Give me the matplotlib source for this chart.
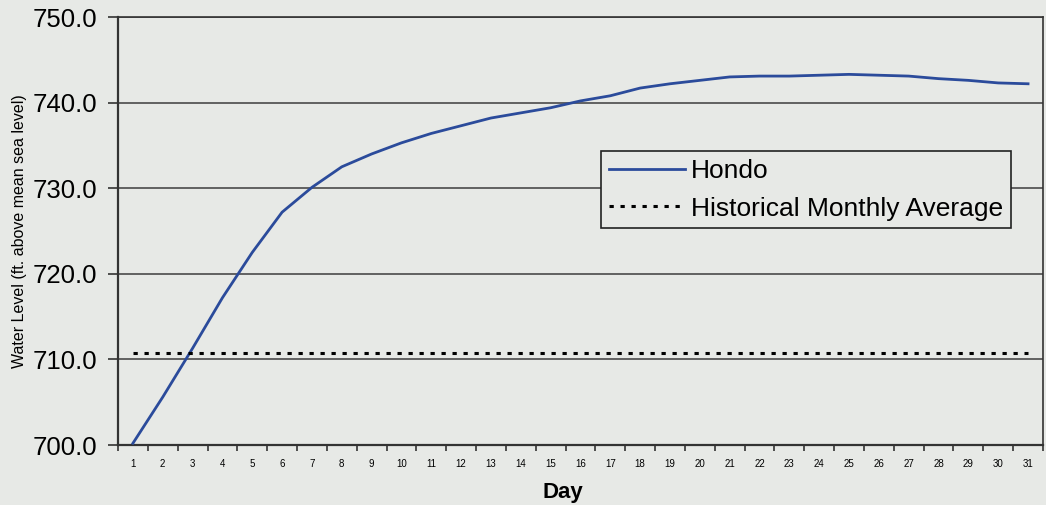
import numpy as np
import matplotlib.pyplot as plt

# -----------------------------
# Data
# -----------------------------
days = list(range(1, 32))
hondo = [700.2, 705.6, 711.3, 717.2, 722.5, 727.2, 730.1, 732.5, 734.0, 735.3,
         736.4, 737.3, 738.2, 738.8, 739.4, 740.2, 740.8, 741.7, 742.2, 742.6,
         743.0, 743.1, 743.1, 743.2, 743.3, 743.2, 743.1, 742.8, 742.6, 742.3,
         742.2]
hist_avg = [710.7] * 31

y_ticks = [700, 710, 720, 730, 740, 750]

bg = '#e7e9e6'
plt.rcParams['font.family'] = ['Liberation Sans', 'DejaVu Sans']

fig = plt.figure(figsize=(10.46, 5.05), dpi=100, facecolor=bg)
ax = fig.add_axes([0.1128, 0.1188, 0.8843, 0.8475], facecolor=bg)

ax.plot(days, hondo, color='#2b4b9b', lw=2.0, label='Hondo', zorder=3)
ax.plot(days, hist_avg, color='black', lw=2.2, linestyle=(0, (1.4, 2.2)),
        label='Historical Monthly Average', zorder=3)

ax.set_xlim(0.5, 31.5)
ax.set_ylim(700, 750)

# y axis
ax.set_yticks(y_ticks)
ax.set_yticklabels([f'{v:.1f}' for v in y_ticks], fontsize=18.5)
ax.yaxis.grid(True, color='#4a4a4a', lw=1.2)
ax.tick_params(axis='y', length=7, width=1.2, pad=8, color='#333333')

# x axis: labels at days, tick marks between categories
ax.set_xticks(days)
ax.set_xticklabels([str(d) for d in days], fontsize=7)
ax.tick_params(axis='x', which='major', length=0, pad=10)
ax.set_xticks(np.arange(0.5, 32, 1), minor=True)
ax.tick_params(axis='x', which='minor', length=4, width=1.2, color='#333333')

for s in ax.spines.values():
    s.set_color('#333333')
    s.set_linewidth(1.2)
ax.spines['left'].set_linewidth(1.6)
ax.spines['bottom'].set_linewidth(1.6)

ax.set_ylabel('Water Level (ft. above mean sea level)', fontsize=11.5)
ax.yaxis.set_label_coords(-0.098, 0.5)
ax.set_xlabel('Day', fontsize=16, fontweight='bold')
ax.xaxis.set_label_coords(0.481, -0.086)

leg = ax.legend(loc='upper left', bbox_to_anchor=(0.522, 0.686), fontsize=19,
                frameon=True, fancybox=False, handlelength=2.9,
                handletextpad=0.2, borderpad=0.3, labelspacing=0.5,
                borderaxespad=0)
leg.get_frame().set_edgecolor('#222222')
leg.get_frame().set_facecolor(bg)
leg.get_frame().set_alpha(1)
leg.get_frame().set_linewidth(1.2)

plt.savefig('out.png', dpi=100, facecolor=bg)
